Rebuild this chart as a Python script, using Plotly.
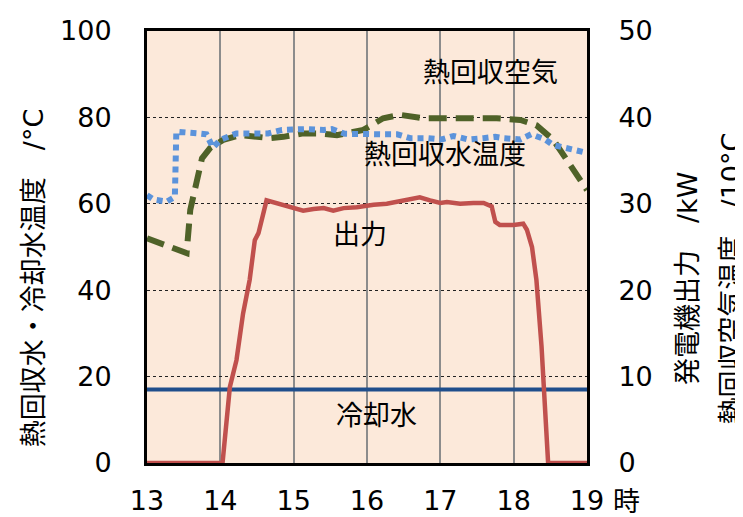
import plotly.graph_objects as go

# ---- data ----
# 発電機出力 (kW, right axis)
out_t = [13.0, 13.5, 14.03, 14.13, 14.22, 14.31, 14.40, 14.47, 14.52, 14.63, 14.72, 14.86, 15.0,
         15.13, 15.27, 15.41, 15.54, 15.68, 15.86, 16.04, 16.09, 16.27, 16.41, 16.54, 16.72,
         16.86, 17.0, 17.09, 17.27, 17.45, 17.59, 17.70, 17.75, 17.81, 18.0, 18.13, 18.18,
         18.25, 18.31, 18.38, 18.47, 19.0]
out_kw = [0, 0, 0, 8.8, 11.9, 17.3, 21.2, 25.8, 26.6, 30.4, 30.2, 29.9, 29.5,
          29.2, 29.4, 29.5, 29.2, 29.5, 29.6, 29.9, 29.9, 30.0, 30.2, 30.4, 30.75,
          30.4, 30.1, 30.2, 30.0, 30.1, 30.1, 29.7, 27.9, 27.55, 27.55, 27.7, 27.0,
          25.0, 21.2, 13.5, 0, 0]

# 熱回収水温度 (°C, left axis)
wat_t = [13.0, 13.31, 13.54, 13.59, 13.68, 13.75, 13.86, 14.04, 14.27, 14.68, 14.86, 15.13,
         15.31, 15.59, 15.95, 16.22, 16.45, 16.77, 17.09, 17.45, 17.77, 18.09, 18.31, 18.54,
         18.72, 18.9, 19.0]
wat_c = [52.0, 50.1, 48.6, 58.6, 65.5, 70.5, 72.9, 74.8, 75.9, 75.2, 75.5, 76.3,
         76.3, 75.9, 77.1, 79.8, 80.6, 79.8, 79.8, 79.8, 79.8, 79.4, 78.2, 74.8,
         70.1, 65.5, 63.2]

# 熱回収空気温度 (/10°C, right axis)
air_t = [13.0, 13.09, 13.27, 13.38, 13.40, 13.56, 13.70, 13.81, 13.90, 14.0, 14.22, 14.43,
         14.65, 14.84, 15.04, 15.18, 15.41, 15.52, 15.70, 16.04, 16.18, 16.41, 16.59, 16.82,
         17.02, 17.18, 17.38, 17.59, 17.75, 17.86, 18.09, 18.24, 18.43, 18.54, 18.70, 18.88,
         19.0]
air_v = [31.0, 30.5, 30.25, 30.8, 38.35, 38.15, 38.15, 38.05, 36.5, 37.4, 38.15, 38.15,
         38.15, 38.55, 38.65, 38.65, 38.55, 38.65, 38.1, 37.95, 38.05, 38.05, 37.6, 37.6,
         37.45, 37.85, 37.45, 37.6, 37.75, 37.6, 37.45, 38.05, 37.45, 36.8, 36.5, 36.1,
         35.9]

# 冷却水温度 (°C, left axis)
cool_t = [13.0, 19.0]
cool_c = [17.0, 17.0]

x_ticks = [13, 14, 15, 16, 17, 18, 19]

FONT = "DejaVu Sans, Noto Sans CJK JP, sans-serif"
FS = 27
JFS = 27

fig = go.Figure()
fig.add_trace(go.Scatter(x=cool_t, y=cool_c, mode="lines",
                         line=dict(color="#1F4E8C", width=4), yaxis="y"))
fig.add_trace(go.Scatter(x=out_t, y=out_kw, mode="lines",
                         line=dict(color="#C0504D", width=4.5), yaxis="y2"))
fig.add_trace(go.Scatter(x=air_t, y=air_v, mode="lines",
                         line=dict(color="#5B93DB", width=6, dash="6px,5px"), yaxis="y2"))
fig.add_trace(go.Scatter(x=wat_t, y=wat_c, mode="lines",
                         line=dict(color="#4F6228", width=6, dash="18px,9px"), yaxis="y"))

ann = [
    dict(text="熱回収空気", x=17.68, y=90.3),
    dict(text="熱回収水温度", x=17.07, y=71.3),
    dict(text="出力", x=15.9, y=52.8),
    dict(text="冷却水", x=16.13, y=11.1),
]
annotations = [dict(text=a["text"], x=a["x"], y=a["y"], xref="x", yref="y",
                    xanchor="center", yanchor="middle",
                    showarrow=False, font=dict(family=FONT, size=JFS, color="black"))
               for a in ann]
side = [
    dict(text="熱回収水・冷却水温度　/°C", x=-0.259, y=0.428, angle=-90),
    dict(text="発電機出力　/kW", x=1.227, y=0.428, angle=-90),
    dict(text="熱回収空気温度　/10°C", x=1.328, y=0.428, angle=-90),
    dict(text="時", x=1.09, y=-0.088, angle=0),
]
annotations += [dict(text=s["text"], x=s["x"], y=s["y"], xref="paper", yref="paper",
                     xanchor="center", yanchor="middle", textangle=s["angle"],
                     showarrow=False, font=dict(family=FONT, size=JFS, color="black"))
                for s in side]

# page body adds an 8px offset, so the figure is 8px smaller and margins shifted
fig.update_layout(
    width=735, height=509,
    margin=dict(l=139, r=156, t=23, b=54, autoexpand=False),
    paper_bgcolor="white", plot_bgcolor="#FCE9DA",
    showlegend=False,
    font=dict(family=FONT, size=FS, color="black"),
    xaxis=dict(range=[13, 19], tickvals=x_ticks, showgrid=True, gridcolor="#8C8C8C",
               gridwidth=2, showline=True, linecolor="black", linewidth=3, mirror=True,
               ticks="", ticklabelstandoff=12, zeroline=False, automargin=False),
    yaxis=dict(range=[0, 100], dtick=20, showgrid=True, gridcolor="#222222", griddash="dot",
               gridwidth=1, showline=True, linecolor="black", linewidth=3, mirror=True,
               ticks="", ticklabelstandoff=27, zeroline=False, automargin=False),
    yaxis2=dict(range=[0, 50], dtick=10, overlaying="y", side="right", showgrid=False,
                showline=True, linecolor="black", linewidth=3, ticks="",
                ticklabelstandoff=23, zeroline=False, automargin=False),
    annotations=annotations,
)

fig.write_html("out.html")
